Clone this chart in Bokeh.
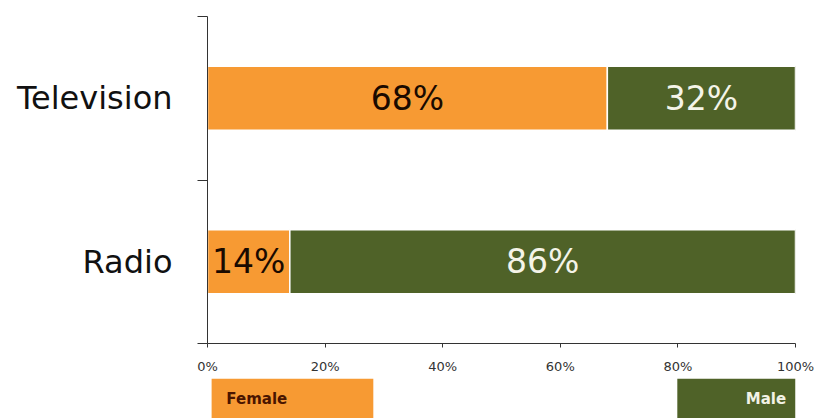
from bokeh.plotting import figure
from bokeh.layouts import column
from bokeh.models import ColumnDataSource, Range1d, FixedTicker, PrintfTickFormatter
from bokeh.core.properties import value
from bokeh.embed import file_html
from bokeh.resources import INLINE

# data
categories = ["Radio", "Television"]
female = [14, 68]
male = [86, 32]
x_ticks = [0, 20, 40, 60, 80, 100]
legend_labels = ["Female", "Male"]

ORANGE = "#F79A33"
GREEN = "#4F6228"

ypos = [i + 0.5 for i in range(len(categories))]
src = ColumnDataSource(dict(
    y=ypos,
    fend=[f for f in female],
    mend=[f + m for f, m in zip(female, male)],
    fmid=[f / 2 for f in female],
    mmid=[f + m / 2 for f, m in zip(female, male)],
    flab=[f"{f}%" for f in female],
    mlab=[f"{m}%" for m in male],
))

xr = Range1d(0, 100)
p = figure(width=816, height=378, output_backend="svg", toolbar_location=None,
           x_range=xr, y_range=Range1d(0, len(categories)),
           min_border_left=207, min_border_right=21, min_border_top=16,
           min_border_bottom=35)
p.outline_line_color = None
p.xgrid.visible = False
p.ygrid.visible = False
p.background_fill_color = "white"
p.border_fill_color = "white"

p.hbar(y="y", left=0, right="fend", height=0.39, source=src,
       fill_color=ORANGE, line_color="white", line_width=1.5)
p.hbar(y="y", left="fend", right="mend", height=0.39, source=src,
       fill_color=GREEN, line_color="white", line_width=1.5)

p.text(x="fmid", y="y", text="flab", source=src, text_align="center",
       text_baseline="middle", text_font=value("DejaVu Sans"),
       text_font_size="33px", text_color="#1a0a00")
p.text(x="mmid", y="y", text="mlab", source=src, text_align="center",
       text_baseline="middle", text_font=value("DejaVu Sans"),
       text_font_size="33px", text_color="#F4F4E8")

# x axis
xa = p.xaxis[0]
xa.ticker = FixedTicker(ticks=x_ticks, minor_ticks=[])
xa.formatter = PrintfTickFormatter(format="%d%%")
xa.major_tick_in = 0
xa.major_tick_out = 4
xa.axis_line_color = "#333333"
xa.major_tick_line_color = "#333333"
xa.major_label_text_font = "DejaVu Sans"
xa.major_label_text_font_size = "13px"
xa.major_label_text_color = "#333333"
xa.major_label_standoff = 11

# y axis
ya = p.yaxis[0]
ya.ticker = FixedTicker(ticks=ypos, minor_ticks=list(range(len(categories) + 1)))
ya.major_label_overrides = {y: c for y, c in zip(ypos, categories)}
ya.major_tick_line_color = None
ya.major_tick_in = 0
ya.major_tick_out = 0
ya.minor_tick_in = 0
ya.minor_tick_out = 10
ya.minor_tick_line_color = "#333333"
ya.axis_line_color = "#333333"
ya.major_label_text_font = "DejaVu Sans"
ya.major_label_text_font_size = "32px"
ya.major_label_text_color = "#111111"
ya.major_label_standoff = 25

# legend strip (frame aligned with the chart frame, shares x range)
lg = figure(width=816, height=40, output_backend="svg", toolbar_location=None,
            x_range=xr, y_range=Range1d(0, 40),
            min_border_left=207, min_border_right=21, min_border_top=0,
            min_border_bottom=0)
lg.axis.visible = False
lg.grid.visible = False
lg.outline_line_color = None
lg.background_fill_color = "white"
lg.border_fill_color = "white"
lg.quad(left=[0.7], right=[28.2], bottom=[-5], top=[40], fill_color=ORANGE, line_color=None)
lg.quad(left=[79.9], right=[100], bottom=[-5], top=[40], fill_color=GREEN, line_color=None)
lg.text(x=[3.2], y=[20], text=[legend_labels[0]], text_align="left", text_baseline="middle",
        text_font=value("DejaVu Sans"), text_font_style="bold", text_font_size="15px",
        text_color="#4a1500")
lg.text(x=[98.4], y=[20], text=[legend_labels[1]], text_align="right", text_baseline="middle",
        text_font=value("DejaVu Sans"), text_font_style="bold", text_font_size="15px",
        text_color="#F2F2E6")

layout = column(p, lg, spacing=0)
open("out.html", "w").write(file_html(layout, INLINE))
